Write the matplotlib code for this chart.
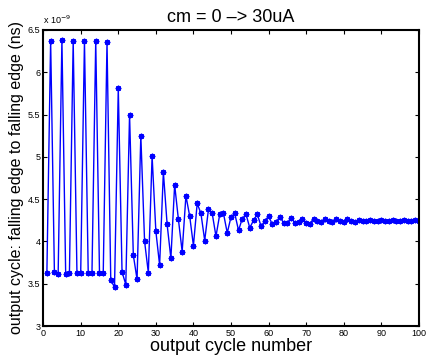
import numpy as np
import matplotlib
matplotlib.use('Agg')
import matplotlib.pyplot as plt

plt.rcParams['font.family'] = ['Liberation Sans', 'DejaVu Sans']

# =========================
# Datos (ns)
# =========================
cycle = np.arange(1, 101)
t_ns = [
    3.63, 6.37, 3.64, 3.62, 6.38, 3.62, 3.63, 6.37, 3.63, 3.63,
    6.37, 3.63, 3.63, 6.37, 3.63, 3.63, 6.36, 3.54, 3.46, 5.81,
    3.64, 3.49, 5.50, 3.84, 3.55, 5.25, 4.00, 3.63, 5.01, 4.12,
    3.72, 4.82, 4.20, 3.80, 4.67, 4.26, 3.88, 4.54, 4.30, 3.95,
    4.45, 4.33, 4.01, 4.38, 4.33, 4.06, 4.32, 4.33, 4.10, 4.29,
    4.33, 4.13, 4.27, 4.32, 4.16, 4.25, 4.32, 4.18, 4.24, 4.30,
    4.20, 4.23, 4.29, 4.22, 4.22, 4.28, 4.22, 4.23, 4.27, 4.22,
    4.21, 4.27, 4.24, 4.23, 4.26, 4.24, 4.23, 4.26, 4.24, 4.23,
    4.26, 4.24, 4.235, 4.255, 4.245, 4.24, 4.25, 4.245, 4.24, 4.25,
    4.245, 4.24, 4.25, 4.245, 4.245, 4.25, 4.245, 4.245, 4.25, 4.245,
]
t_s = np.array(t_ns) * 1e-9

xticks = np.arange(0, 101, 10)
yticks = [3.0, 3.5, 4.0, 4.5, 5.0, 5.5, 6.0, 6.5]

fig = plt.figure(figsize=(4.27, 3.62), dpi=100)
ax = fig.add_axes([0.101, 0.0994, 0.880, 0.818])

# marcador tipo asterisco (8 brazos) como en MATLAB
ax.plot(cycle, t_s, '-', marker=(8, 2, 0), color='blue', linewidth=1.0,
        markersize=4, markeredgewidth=1.0)

ax.set_xlim(0, 100)
ax.set_ylim(3e-9, 6.5e-9)
ax.set_xticks(xticks)
ax.set_xticklabels([str(v) for v in xticks])
ax.set_yticks(np.array(yticks) * 1e-9)
ax.set_yticklabels([f'{v:g}' for v in yticks])
ax.tick_params(direction='in', top=True, right=True, labelsize=6.5,
               length=3, width=0.8, pad=2)
for s in ax.spines.values():
    s.set_linewidth(1.5)

ax.text(0.0, 1.012, r'x 10$^{-9}$', transform=ax.transAxes, fontsize=6.5,
        ha='left', va='bottom')

ax.set_title('cm = 0 \u2013> 30uA', fontsize=13, pad=6)
ax.set_xlabel('output cycle number', fontsize=13, labelpad=0)
ax.set_ylabel('output cycle: falling edge to falling edge (ns)', fontsize=11.5,
              labelpad=3)

fig.savefig('out.png', dpi=100)
